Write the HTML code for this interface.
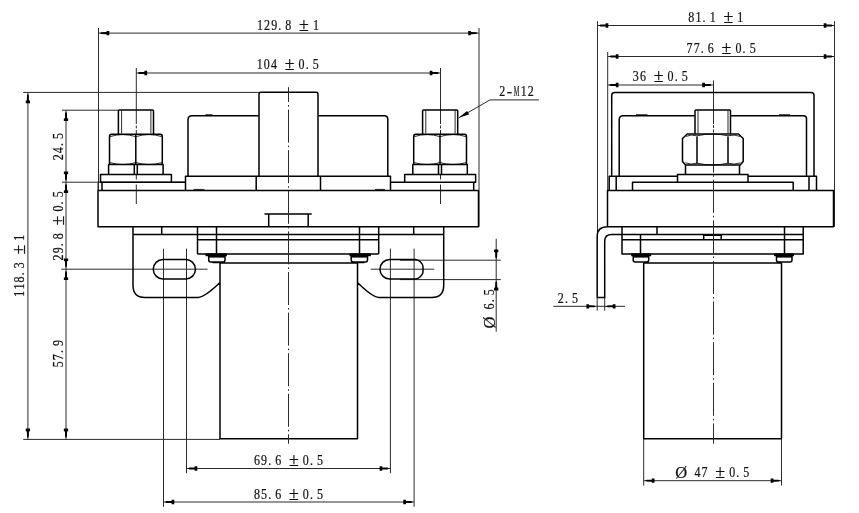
<!DOCTYPE html>
<html><head><meta charset="utf-8"><title>Dimension drawing</title>
<style>
html,body{margin:0;padding:0;background:#fff}
body{width:859px;height:513px;overflow:hidden}
svg{display:block;will-change:transform}
.t{font-family:"Liberation Serif","Noto Serif CJK SC",serif;fill:#111;stroke:#111;stroke-width:.22;text-anchor:middle}
.n{fill:none;stroke:#2a2a2a;stroke-width:1}
.k{fill:none;stroke:#000;stroke-width:1.5;stroke-linejoin:round}
.c{fill:none;stroke:#2a2a2a;stroke-width:1;stroke-dasharray:33 3 1.6 3}
.f{fill:#000;stroke:none}
.a{fill:#000;stroke:none}
</style></head><body>
<svg width="859" height="513" viewBox="0 0 859 513">
<rect width="859" height="513" fill="#fff"/>
<path class="n" d="M98.5 28L98.5 190.5M479 28L479 226.8M98.5 33.1L479 33.1M136.3 68L136.3 124M440.5 68L440.5 124M136.3 73L440.5 73M23.2 92.4L259 92.4M23.2 439.4L220 439.4M27.9 92.4L27.9 439.4M62 110.2L118.3 110.2M62 182.2L185 182.2M66 110.2L66 439.4M61.2 269.2L207.5 269.2M163.5 248.7L163.5 506.8M414.1 248.7L414.1 506.8M186.5 248.7L186.5 473.3M390.4 248.7L390.4 473.3M186.5 468.5L390.4 468.5M163.5 502L414.1 502M370.7 269.2L434.2 269.2M400 260.2L500.8 260.2M400 279.6L500.8 279.6M496.2 238.7L496.2 331.7M458.5 118L490 99.9M490 99.9L538.9 99.9M136.3 125.6V128.4M136.3 130V134M136.3 175V179.5M136.3 184.5V204M440.5 125.6V128.4M440.5 130V134M440.5 175V179.5M440.5 184.5V204M121.6 110.5L121.6 133.5M150.9 110.5L150.9 133.5M110.1 136.6Q122.5 132.6 135.8 136.6Q149.3 132.6 161.7 136.6M110.1 162.6Q122.5 166.4 135.8 162.6Q149.3 166.4 161.7 162.6M425.8 110.5L425.8 133.5M455.1 110.5L455.1 133.5M414.3 136.6Q426.7 132.6 440.0 136.6Q453.5 132.6 465.9 136.6M414.3 162.6Q426.7 166.4 440.0 162.6Q453.5 166.4 465.9 162.6M98 182.2V190.5M205.5 114.7H212.5M193.5 189.4H204.5M375 189.4H385M597.5 21.2L597.5 240M834.5 21.2L834.5 226.8M597.5 25.5L834.5 25.5M607.7 52L607.7 190.5M607.7 56.5L834.5 56.5M607.7 85L713 85M713.5 80.5L713.5 124M713.5 125.2V128M713.5 129.4V132.5M713.5 134L713.5 172.6M636 114.7H647.5M779 114.7H790M698 110.5L698 133.5M728 110.5L728 133.5M686 136.4Q691 134 697 135.8Q712.5 132.4 728 135.8Q734 134 740 136.4M685.5 162.8Q691 165.2 697 163.2Q712.5 166.6 728 163.2Q734 165.2 740.5 162.8M643.7 438.7L643.7 485.5M781.5 438.7L781.5 485.5M643.7 480.7L781.5 480.7M597.2 297.5L597.2 310.7M604.7 297.5L604.7 310.7M553.3 306.3L625 306.3"/>
<path class="k" d="M118.4 133.7V111Q118.4 110 119.4 110H152.5Q153.5 110 153.5 111V133.7M109.5 136.5V163Q109.5 164.5 111.0 164.5H160.8Q162.3 164.5 162.3 163V136.5Q162.3 134.5 160.3 134.3H111.5Q109.5 134.5 109.5 136.5ZM135.8 135V164.5M108.6 164.5H163.1V174.6H108.6ZM134.3 164.5L134.3 174.6M137.3 164.5L137.3 174.6M100.5 174.6H171.4V182.3H100.5ZM422.6 133.7V111Q422.6 110 423.6 110H456.7Q457.7 110 457.7 111V133.7M413.7 136.5V163Q413.7 164.5 415.2 164.5H465.0Q466.5 164.5 466.5 163V136.5Q466.5 134.5 464.5 134.3H415.7Q413.7 134.5 413.7 136.5ZM440.0 135V164.5M412.8 164.5H467.3V174.6H412.8ZM438.5 164.5L438.5 174.6M441.5 164.5L441.5 174.6M404.7 174.6H475.6V182.3H404.7ZM102 190.5V182.3H185.5M390.5 182.3H473.7V190.5M98 190.5H478.5V226.8H98ZM185.5 190.5V176.2H390.5V190.5M256.2 176.2L256.2 190.5M320.5 176.2L320.5 190.5M188 176.2V119.7Q188 115.7 192 115.7H259M318 115.7H384.3Q387.8 115.7 387.8 119.2V176.2M259 176.2V94.2Q259 92.3 261 92.3H316Q318 92.3 318 94.2V176.2M264.5 214H311.7M268.7 214V226.8M308.2 214V226.8M133 234.5L378.7 234.5M197.5 239.8L378.7 239.8M197.5 253.9L378.7 253.9M378.7 234.5L443.7 234.5M161.7 226.8L161.7 234.5M197.5 226.8L197.5 253.9M216.5 226.8L216.5 253.9M359.5 226.8L359.5 253.9M378.7 226.8L378.7 253.9M413.7 226.8L413.7 234.5M133 226.8V285.5Q133 297.5 145 297.5H198Q205 297 220 282.5M443.7 226.8V285.5Q443.7 297.5 431.7 297.5H379Q372 297 357.5 282.5M163 259.5H185.7A9.75 9.75 0 0 1 185.7 279H163A9.75 9.75 0 0 1 163 259.5ZM389.7 259.5H415.5Q418 259.5 420.5 262Q423 264.5 423 266.5V272Q423 274 420.5 276.5Q418 279 415.5 279H389.7A9.75 9.75 0 0 1 389.7 259.5ZM208.7 256V260Q208.7 262 210.7 262H223Q225 262 225 260V256M351.2 256V260Q351.2 262 353.2 262H365.5Q367.5 262 367.5 260V256M220 263V438.7H357.5V263H220M212.5 262.6H225M352 262.6H364.5M611.7 176.2V95.5Q611.7 92.5 614.7 92.5H811Q814 92.5 814 95.5V176.2M619.2 176.2V119.7Q619.2 115.7 623.2 115.7H695M730.5 115.7H803.5Q806.5 115.7 806.5 118.7V176.2M695 133.7V111Q695 110 696 110H729.5Q730.5 110 730.5 111V133.7M682.5 138.5V161.5L685.5 165H740.2L743.2 161.5V138.5L738.5 134H687.2ZM697 136.5V163.5M728 136.5V163.5M685.5 165H739.5V174.6H685.5ZM677.5 174.6H748V182.3H677.5ZM609.2 190.5V176.2H677.5M616.2 176.2L616.2 190.5M748 176.2H816.5V190.5M809 176.2L809 190.5M632.5 190.5V182.3H677.5M748 182.3H793.2V190.5M607.5 190.5H833.5V226.8H607.5ZM607.5 226.8Q597.2 226.8 597.2 236.5V297.6H604.7V241.2Q604.7 234.5 611.7 234.5H622M622 226.8V253.9H803.2V226.8M622 234.5L803.2 234.5M622 239.8L803.2 239.8M657 226.8L657 234.5M640.5 234.5L640.5 253.9M784.5 226.8L784.5 253.9M703.7 235.2H721.2V239.8H703.7ZM633.2 256V260Q633.2 262 635.2 262H646.7Q648.7 262 648.7 260V256M776.5 256V260Q776.5 262 778.5 262H790Q792 262 792 260V256M643.7 263V438.7H781.5V263M643.7 263L781.5 263"/>
<path class="c" stroke-dashoffset="18.2" d="M288.5 87.2V443.7"/>
<path class="f" d="M205.5 253.4H227V256.2H205.5Z"/>
<path class="f" d="M208.7 256H225V257.6H208.7Z"/>
<path class="f" d="M349.5 253.4H371V256.2H349.5Z"/>
<path class="f" d="M351.2 256H367.5V257.6H351.2Z"/>
<path class="c" stroke-dasharray="33.4 3 1.6 3" stroke-dashoffset="33.4" d="M713.5 172.6V443.7"/>
<path class="f" d="M631.2 253.4H651.2V256.2H631.2Z"/>
<path class="f" d="M633.2 256H648.7V257.6H633.2Z"/>
<path class="f" d="M774 253.4H794V256.2H774Z"/>
<path class="f" d="M776.5 256H792V257.6H776.5Z"/>
<path class="a" d="M99.9 33.1L101.5 32.2L106.5 32.05L106.7 30.95L109.3 30.95L109.3 35.25L106.7 35.25L106.5 34.15L101.5 34.0ZM477.6 33.1L476.0 32.2L471.0 32.05L470.8 30.95L468.2 30.95L468.2 35.25L470.8 35.25L471.0 34.15L476.0 34.0ZM137.7 73L139.3 72.1L144.3 71.95L144.5 70.85L147.1 70.85L147.1 75.15L144.5 75.15L144.3 74.05L139.3 73.9ZM439.1 73L437.5 72.1L432.5 71.95L432.3 70.85L429.7 70.85L429.7 75.15L432.3 75.15L432.5 74.05L437.5 73.9ZM27.9 93.8L27.0 95.4L26.85 100.4L25.75 100.6L25.75 103.2L30.05 103.2L30.05 100.6L28.95 100.4L28.8 95.4ZM27.9 438.0L27.0 436.4L26.85 431.4L25.75 431.2L25.75 428.6L30.05 428.6L30.05 431.2L28.95 431.4L28.8 436.4ZM66 111.6L65.1 113.2L64.95 118.2L63.85 118.4L63.85 121.0L68.15 121.0L68.15 118.4L67.05 118.2L66.9 113.2ZM66 180.8L65.1 179.2L64.95 174.2L63.85 174.0L63.85 171.4L68.15 171.4L68.15 174.0L67.05 174.2L66.9 179.2ZM66 183.6L65.1 185.2L64.95 190.2L63.85 190.4L63.85 193.0L68.15 193.0L68.15 190.4L67.05 190.2L66.9 185.2ZM66 267.8L65.1 266.2L64.95 261.2L63.85 261.0L63.85 258.4L68.15 258.4L68.15 261.0L67.05 261.2L66.9 266.2ZM66 270.6L65.1 272.2L64.95 277.2L63.85 277.4L63.85 280.0L68.15 280.0L68.15 277.4L67.05 277.2L66.9 272.2ZM66 438.0L65.1 436.4L64.95 431.4L63.85 431.2L63.85 428.6L68.15 428.6L68.15 431.2L67.05 431.4L66.9 436.4ZM187.9 468.5L189.5 467.6L194.5 467.45L194.7 466.35L197.3 466.35L197.3 470.65L194.7 470.65L194.5 469.55L189.5 469.4ZM389.0 468.5L387.4 467.6L382.4 467.45L382.2 466.35L379.6 466.35L379.6 470.65L382.2 470.65L382.4 469.55L387.4 469.4ZM164.9 502L166.5 501.1L171.5 500.95L171.7 499.85L174.3 499.85L174.3 504.15L171.7 504.15L171.5 503.05L166.5 502.9ZM412.7 502L411.1 501.1L406.1 500.95L405.9 499.85L403.3 499.85L403.3 504.15L405.9 504.15L406.1 503.05L411.1 502.9ZM496.2 258.8L495.3 257.2L495.15 252.2L494.05 252.0L494.05 249.4L498.35 249.4L498.35 252.0L497.25 252.2L497.1 257.2ZM496.2 281.0L495.3 282.6L495.15 287.6L494.05 287.8L494.05 290.4L498.35 290.4L498.35 287.8L497.25 287.6L497.1 282.6ZM459 117.6L467 111L469.2 114.6ZM598.9 25.5L600.5 24.6L605.5 24.45L605.7 23.35L608.3 23.35L608.3 27.65L605.7 27.65L605.5 26.55L600.5 26.4ZM833.1 25.5L831.5 24.6L826.5 24.45L826.3 23.35L823.7 23.35L823.7 27.65L826.3 27.65L826.5 26.55L831.5 26.4ZM609.1 56.5L610.7 55.6L615.7 55.45L615.9 54.35L618.5 54.35L618.5 58.65L615.9 58.65L615.7 57.55L610.7 57.4ZM833.1 56.5L831.5 55.6L826.5 55.45L826.3 54.35L823.7 54.35L823.7 58.65L826.3 58.65L826.5 57.55L831.5 57.4ZM609.1 85L610.7 84.1L615.7 83.95L615.9 82.85L618.5 82.85L618.5 87.15L615.9 87.15L615.7 86.05L610.7 85.9ZM711.6 85L710.0 84.1L705.0 83.95L704.8 82.85L702.2 82.85L702.2 87.15L704.8 87.15L705.0 86.05L710.0 85.9ZM645.1 480.7L646.7 479.8L651.7 479.65L651.9 478.55L654.5 478.55L654.5 482.85L651.9 482.85L651.7 481.75L646.7 481.6ZM780.1 480.7L778.5 479.8L773.5 479.65L773.3 478.55L770.7 478.55L770.7 482.85L773.3 482.85L773.5 481.75L778.5 481.6ZM595.8 306.3L594.2 305.4L589.2 305.25L589.0 304.15L586.4 304.15L586.4 308.45L589.0 308.45L589.2 307.35L594.2 307.2ZM606.1 306.3L607.7 305.4L612.7 305.25L612.9 304.15L615.5 304.15L615.5 308.45L612.9 308.45L612.7 307.35L607.7 307.2Z"/>
<g>
<text class="t" transform="translate(0 30) scale(0.8 1)" font-size="15"><tspan x="324.94 333.81 342.69 349.75 360.44 369.31" y="0">129.8 </tspan><tspan x="380.00" y="0.9" font-size="19.5" textLength="12.25" lengthAdjust="spacingAndGlyphs">±</tspan><tspan x="394.94" y="0">1</tspan></text>
<text class="t" transform="translate(0 69) scale(0.8 1)" font-size="15"><tspan x="324.69 333.56 342.44 351.31" y="0">104 </tspan><tspan x="362.00" y="0.9" font-size="19.5" textLength="12.25" lengthAdjust="spacingAndGlyphs">±</tspan><tspan x="376.94 384.00 394.69" y="0">0.5</tspan></text>
<text class="t" transform="translate(0 95.8) scale(0.8 1)" font-size="15"><tspan x="627.94" y="0">2</tspan><tspan x="636.81" y="0" textLength="6.75" lengthAdjust="spacingAndGlyphs">-</tspan><tspan x="645.69" y="0" textLength="7.00" lengthAdjust="spacingAndGlyphs">M</tspan><tspan x="654.56 663.44" y="0">12</tspan></text>
<text class="t" transform="translate(0 465) scale(0.8 1)" font-size="15"><tspan x="321.19 330.06 337.13 347.81 356.69" y="0">69.6 </tspan><tspan x="367.38" y="0.9" font-size="19.5" textLength="12.25" lengthAdjust="spacingAndGlyphs">±</tspan><tspan x="382.31 389.38 400.06" y="0">0.5</tspan></text>
<text class="t" transform="translate(0 499.2) scale(0.8 1)" font-size="15"><tspan x="321.19 330.06 337.13 347.81 356.69" y="0">85.6 </tspan><tspan x="367.38" y="0.9" font-size="19.5" textLength="12.25" lengthAdjust="spacingAndGlyphs">±</tspan><tspan x="382.31 389.38 400.06" y="0">0.5</tspan></text>
<text class="t" transform="translate(0 22) scale(0.8 1)" font-size="15"><tspan x="864.19 873.06 880.12 890.81 899.69" y="0">81.1 </tspan><tspan x="910.38" y="0.9" font-size="19.5" textLength="12.25" lengthAdjust="spacingAndGlyphs">±</tspan><tspan x="925.31" y="0">1</tspan></text>
<text class="t" transform="translate(0 53) scale(0.8 1)" font-size="15"><tspan x="861.94 870.81 877.88 888.56 897.44" y="0">77.6 </tspan><tspan x="908.13" y="0.9" font-size="19.5" textLength="12.25" lengthAdjust="spacingAndGlyphs">±</tspan><tspan x="923.06 930.13 940.81" y="0">0.5</tspan></text>
<text class="t" transform="translate(0 81.3) scale(0.8 1)" font-size="15"><tspan x="794.81 803.69 812.56" y="0">36 </tspan><tspan x="823.25" y="0.9" font-size="19.5" textLength="12.25" lengthAdjust="spacingAndGlyphs">±</tspan><tspan x="838.19 845.25 855.94" y="0">0.5</tspan></text>
<text class="t" transform="translate(0 303) scale(0.8 1)" font-size="15"><tspan x="700.94 708.00 718.69" y="0">2.5</tspan></text>
<text class="t" transform="translate(0 477.4) scale(0.8 1)" font-size="15"><tspan x="851.62" y="0.9" font-size="16.5" textLength="14.88" lengthAdjust="spacingAndGlyphs">Ø</tspan><tspan x="862.94 871.81 880.69 889.56" y="0"> 47 </tspan><tspan x="900.25" y="0.9" font-size="19.5" textLength="12.25" lengthAdjust="spacingAndGlyphs">±</tspan><tspan x="915.19 922.25 932.94" y="0">0.5</tspan></text>
<text class="t" transform="translate(63 159.8) rotate(-90) scale(0.8 1)" font-size="15"><tspan x="3.19 12.06 19.12 29.81" y="0">24.5</tspan></text>
<text class="t" transform="translate(63 260) rotate(-90) scale(0.8 1)" font-size="15"><tspan x="3.19 12.06 19.12 29.81 38.69" y="0">29.8 </tspan><tspan x="49.38" y="0.9" font-size="19.5" textLength="12.25" lengthAdjust="spacingAndGlyphs">±</tspan><tspan x="64.31 71.38 82.06" y="0">0.5</tspan></text>
<text class="t" transform="translate(63 366.8) rotate(-90) scale(0.8 1)" font-size="15"><tspan x="3.19 12.06 19.12 29.81" y="0">57.9</tspan></text>
<text class="t" transform="translate(24.0 296.2) rotate(-90) scale(0.8 1)" font-size="15"><tspan x="3.19 12.06 20.94 28.00 38.69 47.56" y="0">118.3 </tspan><tspan x="58.25" y="0.9" font-size="19.5" textLength="12.25" lengthAdjust="spacingAndGlyphs">±</tspan><tspan x="73.19" y="0">1</tspan></text>
<text class="t" transform="translate(493.6 328.2) rotate(-90) scale(0.8 1)" font-size="15"><tspan x="7.00" y="0.9" font-size="16.5" textLength="14.88" lengthAdjust="spacingAndGlyphs">Ø</tspan><tspan x="18.31 27.19 34.25 44.94" y="0"> 6.5</tspan></text>
</g>
</svg>
</body></html>
